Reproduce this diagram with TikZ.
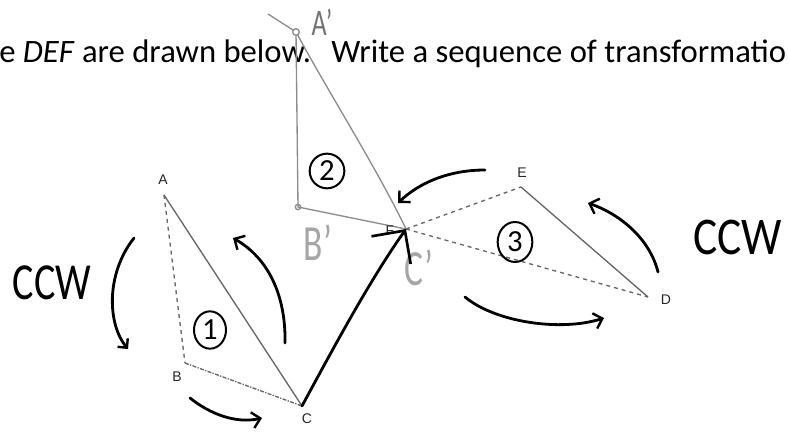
\documentclass[tikz,border=0pt]{standalone}
\usepackage{fontspec}
\setmainfont{Carlito}
\newfontfamily\labelfont{Liberation Sans}
\usetikzlibrary{arrows.meta, shapes.geometric}
\tikzset{
  side/.style={black!60, line width=1pt},
  pencil/.style={black!45, line width=1pt},
  ink/.style={black, line width=2.1pt, line cap=round},
  inkarr/.style={ink, -{Straight Barb[length=6pt, width=12pt, line width=1.8pt]}},
  head/.style={inner sep=0pt, font=\fontsize{24.5}{24.5}\selectfont},
  vlabel/.style={inner sep=0pt, text=black!85, font=\labelfont\fontsize{10.5}{10.5}\selectfont},
  hand/.style={inner sep=0pt, yscale=1.3, transform shape, font=\fontsize{30}{30}\selectfont},
  ghost/.style={inner sep=0pt, text=black!35, xscale=0.7, transform shape, font=\fontsize{38}{38}\selectfont},
  num/.style={draw, ellipse, line width=1.5pt, inner sep=0pt, minimum width=24pt, minimum height=28pt, font=\fontsize{23}{23}\selectfont},
}
\begin{document}
\begin{tikzpicture}[x=0.75pt, y=-0.75pt]
  \useasboundingbox (0,0) rectangle (788,434);
  \clip (0,0) rectangle (788,434);
  % vertices
  \coordinate (A) at (164,195);
  \coordinate (B) at (185,363);
  \coordinate (C) at (302,406);
  \coordinate (D) at (648,297);
  \coordinate (E) at (521,187);
  \coordinate (F) at (406,229);
  \coordinate (A1) at (296,32);
  \coordinate (B1) at (298,207);
  % heading
  \node[head, anchor=base west] (txt1) at (-1,63) {e \textit{DEF} are drawn below.};
  \node[head, anchor=base west] (txt2) at (331,63) {Write a sequence of transformation};
  % triangles
  \draw[side, dashed] (A) -- (B);
  \draw[side, densely dash dot] (B) -- (C);
  \draw[side] (A) -- (C);
  \draw[side, dashed] (F) -- (E);
  \draw[side] (E) -- (D);
  \draw[side, dashed] (F) -- (D);
  % pencil image
  \coordinate (tick) at (268,14);
  \draw[pencil] (tick) -- (A1);
  \draw[pencil] (A1) -- (B1) -- (F);
  \draw[pencil] (A1) .. controls (330,95) and (375,165) .. (F);
  \draw[pencil, fill=white] (A1) circle (2.5pt);
  \draw[pencil] (B1) circle (2pt);
  % vertex labels
  \node[vlabel] (lA) at (163,180) {A};
  \node[vlabel] (lB) at (177,377) {B};
  \node[vlabel] (lC) at (307,419) {C};
  \node[vlabel] (lD) at (666,300) {D};
  \node[vlabel] (lE) at (522,173) {E};
  \node[vlabel] (lF) at (390,231) {F};
  \node[ghost, text=black!55, font=\fontsize{28}{28}\selectfont] (lA1) at (322,22) {A'};
  \node[ghost] (lB1) at (318,243) {B'};
  \node[ghost] (lC1) at (419,268) {C'};
  % step numbers
  \node[num] (n1) at (210,330) {1};
  \node[num, minimum width=26pt, minimum height=26pt] (n2) at (327,171) {2};
  \node[num, minimum width=26pt, minimum height=30pt] (n3) at (515,242) {3};
  \node[hand] (ccwL) at (52,283) {CCW};
  \node[hand, yscale=0.9, font=\fontsize{34}{34}\selectfont] (ccwR) at (738,237) {CCW};
  % hand drawn arrows
  \coordinate (a1s) at (128,349);
  \coordinate (a1e) at (134,238);
  \coordinate (a2s) at (285,343);
  \coordinate (a2e) at (233,238);
  \coordinate (a3s) at (190,398);
  \coordinate (a3e) at (262,418);
  \coordinate (a5s) at (485,170);
  \coordinate (a5e) at (398,203);
  \coordinate (a6s) at (658,272);
  \coordinate (a6e) at (588,203);
  \coordinate (a7s) at (465,297);
  \coordinate (a7e) at (604,318);
  \draw[inkarr, {Straight Barb[length=5pt, width=10pt, line width=1.8pt]}-] (a1s) .. controls (108,325) and (105,275) .. (a1e);
  \draw[inkarr] (a2s) .. controls (286,295) and (268,258) .. (a2e);
  \draw[inkarr] (a3s) .. controls (210,414) and (236,424) .. (a3e);
  \draw[ink, -{Straight Barb[length=18pt, width=36pt, line width=2pt]}] (C) .. controls (335,345) and (370,280) .. (F);
  \draw[inkarr] (a5s) .. controls (450,170) and (420,182) .. (a5e);
  \draw[inkarr] (a6s) .. controls (650,240) and (622,215) .. (a6e);
  \draw[inkarr] (a7s) .. controls (495,322) and (560,332) .. (a7e);
\end{tikzpicture}
\end{document}
